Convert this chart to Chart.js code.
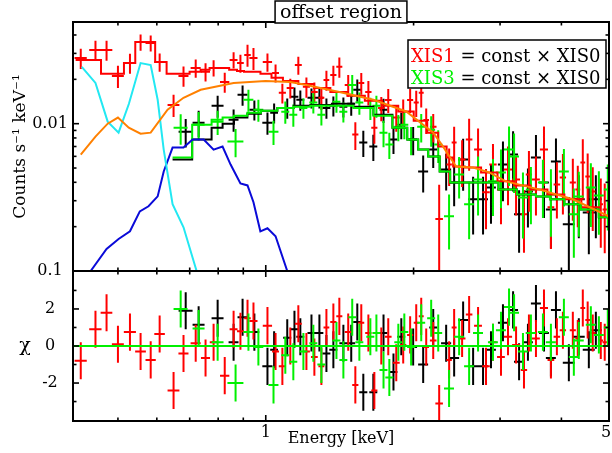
<!DOCTYPE html>
<html>
<head>
<meta charset="utf-8">
<script src="https://cdn.jsdelivr.net/npm/chart.js@4.4.1/dist/chart.umd.min.js"></script>
<style>
  html, body { margin: 0; padding: 0; background: #fff; }
  #wrap { position: relative; width: 612px; height: 453px; background: #fff; overflow: hidden; }
  #wrap canvas { position: absolute; left: 0; }
  #specCanvas { top: 0; }
  #resCanvas { top: 270px; }
</style>
</head>
<body>
<div id="wrap">
  <canvas id="specCanvas" width="612" height="282"></canvas>
  <canvas id="resCanvas" width="612" height="183"></canvas>
</div>
<script>
// --- energy axis (keV) ---
const energyMin = 0.405;
const energyMax = 5;
const energyMajorTicks = [1];
const energyMinorTicks = [0.5, 0.6, 0.7, 0.8, 0.9, 2, 3, 4];
const energyLabelValues = [1, 5];
const energyLabelText = ['1', '5'];

// --- counts axis ---
const countsMin = 0.001;
const countsMax = 0.049;
const countsMajorTicks = [0.001, 0.01];
const countsMinorTicks = [0.002, 0.003, 0.004, 0.005, 0.006, 0.007, 0.008, 0.009, 0.02, 0.03, 0.04];
const countsLabelText = ['0.1', '0.01'];

// --- residual axis ---
const chiMin = -4.05;
const chiMax = 4.05;
const chiMajorTicks = [-2, 0, 2];
const chiMinorTicks = [-3, -1, 1, 3];
const chiLabelText = ['-2', '0', '2'];
const chiErr = 1;

// XIS0 (black)
const xis0Energy = [0.687,0.730,0.798,0.860,0.897,0.948,1.008,1.040,1.106,1.144,1.176,1.239,1.286,1.329,1.373,1.439,1.493,1.536,1.580,1.656,1.737,1.820,1.888,1.996,2.092,2.193,2.330,2.419,2.523,2.644,2.770,2.875,3.041,3.189,3.280,3.419,3.550,3.686,3.808,3.899,4.142,4.340,4.549,4.701];
const xis0HalfWidth = [0.0225,0.0205,0.0224,0.020,0.021,0.022,0.024,0.019,0.021,0.021,0.022,0.023,0.024,0.025,0.026,0.027,0.028,0.029,0.030,0.031,0.032,0.034,0.035,0.037,0.049,0.041,0.055,0.057,0.059,0.062,0.065,0.067,0.071,0.075,0.077,0.080,0.083,0.086,0.089,0.091,0.116,0.122,0.128,0.132];
const xis0Flux = [0.00883,0.01016,0.01323,0.01064,0.0157,0.01243,0.01016,0.01187,0.0128,0.01522,0.01453,0.0150,0.0150,0.0128,0.01323,0.01303,0.01365,0.0170,0.00744,0.00699,0.01243,0.0078,0.00984,0.0078,0.00474,0.00667,0.00489,0.00399,0.00571,0.00307,0.00307,0.00369,0.00528,0.00617,0.00243,0.00347,0.00589,0.00399,0.00262,0.00554,0.00208,0.00307,0.00250,0.00307];
const xis0FluxErr = [0.00193,0.00206,0.00227,0.00183,0.00245,0.00194,0.00174,0.00185,0.0020,0.00237,0.00227,0.00234,0.00234,0.0020,0.00206,0.00203,0.00234,0.00292,0.00151,0.00142,0.00233,0.00158,0.0020,0.0017,0.00133,0.00166,0.00137,0.00124,0.0022,0.0013,0.0013,0.0016,0.0023,0.0027,0.0011,0.0015,0.0025,0.0017,0.0012,0.0024,0.0011,0.0014,0.0012,0.0014];
const xis0Chi = [1.9,1.15,1.5,0.2,1.55,0.75,-1.1,-0.2,0.45,0.9,0.5,0.7,0.7,-0.4,-0.2,0.15,0.15,1.3,-2.5,-2.5,0.7,-1.4,0.5,-0.05,-1.0,1.0,0.15,-0.65,1.4,-1.1,-1.1,-0.2,1.25,1.95,-0.85,0.2,2.3,0.7,-0.65,1.95,-0.9,0.5,-0.2,0.85];

// XIS1 (red)
const xis1Energy = [0.420,0.450,0.474,0.500,0.529,0.556,0.583,0.608,0.649,0.680,0.720,0.754,0.783,0.825,0.860,0.888,0.918,0.944,1.008,1.047,1.081,1.122,1.165,1.210,1.256,1.298,1.329,1.373,1.412,1.472,1.522,1.565,1.618,1.664,1.719,1.776,1.844,1.905,1.968,2.025,2.073,2.122,2.193,2.255,2.363,2.419,2.511,2.595,2.706,2.809,2.902,3.013,3.114,3.234,3.356,3.435,3.550,3.686,3.808,3.916,4.028,4.220,4.319,4.422,4.524,4.633,4.811,4.901];
const xis1HalfWidth = [0.012,0.013,0.013,0.014,0.015,0.014,0.014,0.015,0.018,0.016,0.017,0.016,0.014,0.018,0.016,0.014,0.014,0.018,0.022,0.017,0.018,0.019,0.019,0.020,0.020,0.018,0.018,0.020,0.020,0.024,0.022,0.022,0.024,0.024,0.026,0.028,0.030,0.028,0.028,0.024,0.024,0.028,0.034,0.040,0.030,0.028,0.040,0.040,0.050,0.050,0.050,0.055,0.060,0.060,0.050,0.050,0.065,0.070,0.060,0.060,0.060,0.060,0.050,0.050,0.050,0.060,0.050,0.050];
const xis1Flux = [0.0279,0.0316,0.0316,0.0211,0.0258,0.0358,0.0353,0.0262,0.0134,0.0211,0.0239,0.0225,0.0239,0.0192,0.0271,0.0258,0.0293,0.0279,0.0262,0.0221,0.0162,0.0175,0.0250,0.0178,0.0164,0.0150,0.0198,0.0214,0.0243,0.0183,0.00843,0.0189,0.0164,0.0094,0.0128,0.0145,0.0110,0.0121,0.0145,0.0139,0.0162,0.0106,0.00954,0.00225,0.00528,0.00744,0.00571,0.0078,0.00667,0.00342,0.00528,0.00358,0.00489,0.00418,0.00243,0.00452,0.00418,0.00667,0.00271,0.00387,0.00432,0.00399,0.00358,0.00545,0.00438,0.00347,0.00284,0.00262];
const xis1FluxErr = [0.0044,0.0049,0.0049,0.0036,0.0040,0.0045,0.0044,0.0037,0.0023,0.0033,0.0034,0.0032,0.0030,0.0030,0.0034,0.0036,0.0050,0.0048,0.0037,0.0031,0.0025,0.0027,0.0035,0.0028,0.0026,0.0026,0.0031,0.0033,0.0038,0.0031,0.0018,0.0032,0.0031,0.0021,0.0024,0.0027,0.0022,0.0025,0.0027,0.0028,0.0033,0.0021,0.0021,0.0016,0.0015,0.0021,0.0020,0.0030,0.0026,0.0015,0.0020,0.0015,0.0021,0.0018,0.0011,0.0020,0.0018,0.0029,0.0013,0.0016,0.0019,0.0018,0.0016,0.0024,0.0019,0.0016,0.0014,0.0013];
const xis1Chi = [-0.8,0.9,1.8,0.1,0.75,-0.3,-0.75,0.65,-2.4,-0.4,0.15,-0.65,0.2,-1.6,0.9,0.8,1.5,1.35,1.1,-0.3,-1.1,0.0,1.2,-0.3,-0.6,-1.1,1.0,1.3,1.6,0.75,-2.1,1.25,0.7,-2.4,0.0,0.5,-0.9,0.05,0.6,1.25,1.6,-0.05,0.3,-3.1,-0.75,1.0,0.4,1.7,1.1,-1.1,0.2,-0.6,0.5,0.05,-1.3,0.7,0.4,2.05,-0.75,0.5,0.85,0.85,0.4,2.05,1.4,0.7,0.3,0.2];

// XIS3 (green)
const xis3Energy = [0.671,0.730,0.798,0.868,0.922,0.966,1.037,1.096,1.138,1.193,1.250,1.298,1.393,1.439,1.500,1.551,1.633,1.680,1.737,1.785,1.862,1.915,1.977,2.073,2.172,2.245,2.362,2.476,2.595,2.706,2.902,3.013,3.129,3.204,3.340,3.467,3.668,3.808,4.047,4.240,4.340,4.592,4.768,4.972];
const xis3HalfWidth = [0.022,0.0205,0.0224,0.0325,0.0216,0.0226,0.0243,0.0205,0.0213,0.0223,0.0234,0.0243,0.026,0.0269,0.028,0.029,0.0305,0.0314,0.0325,0.0334,0.0348,0.0358,0.037,0.0388,0.0406,0.042,0.0553,0.058,0.0607,0.0633,0.0679,0.0705,0.0732,0.075,0.0782,0.0811,0.0858,0.0891,0.0947,0.0992,0.1016,0.1075,0.1116,0.093];
const xis3Flux = [0.0094,0.00984,0.01032,0.00756,0.01453,0.01243,0.00883,0.01205,0.0115,0.0128,0.0139,0.0115,0.01408,0.01205,0.0183,0.0139,0.0128,0.01323,0.00869,0.00721,0.00954,0.00984,0.0078,0.00954,0.00911,0.00721,0.00235,0.00452,0.00284,0.00418,0.00406,0.00467,0.00667,0.00598,0.00316,0.00358,0.00399,0.00331,0.00474,0.00243,0.00321,0.00369,0.00326,0.00358];
const xis3FluxErr = [0.0022,0.00215,0.00193,0.00165,0.00249,0.00213,0.00165,0.00207,0.00197,0.002,0.00217,0.00179,0.0022,0.00188,0.00314,0.00239,0.0022,0.00227,0.00176,0.00146,0.00193,0.002,0.0017,0.00208,0.00213,0.0018,0.00095,0.00141,0.0012,0.0018,0.0017,0.0020,0.0029,0.0026,0.0015,0.0015,0.0017,0.0016,0.0020,0.0012,0.0015,0.0017,0.0015,0.0017];
const xis3Chi = [2.0,0.95,0.2,-2.0,0.75,-0.05,-2.1,-0.5,-0.85,-0.3,0.15,-1.0,0.3,-0.75,1.55,0.2,0.5,0.7,-1.3,-1.7,0.2,0.75,-0.05,1.25,1.5,0.7,-2.3,0.5,-1.1,0.7,0.2,0.85,2.1,1.8,-0.3,0.7,0.75,0.2,1.55,-0.6,0.3,1.15,0.6,1.0];

// folded models (step lines)
const xis1ModelEnergy = [0.41,0.450,0.474,0.500,0.529,0.556,0.583,0.608,0.649,0.680,0.720,0.754,0.783,0.825,0.860,0.888,0.918,0.944,1.008,1.047,1.122,1.210,1.298,1.412,1.522,1.664,1.793,1.932,2.073,2.193,2.297,2.374,2.442,2.644,2.849,3.084,3.325,3.600,3.899,4.220,4.571,4.995];
const xis1ModelFlux = [0.0271,0.0271,0.0218,0.0218,0.0258,0.0358,0.0358,0.0262,0.0218,0.0218,0.0225,0.0232,0.0239,0.0239,0.0232,0.0228,0.0225,0.0225,0.0218,0.0205,0.0195,0.0186,0.0175,0.0164,0.01546,0.0143,0.01323,0.0121,0.01048,0.00869,0.00699,0.00589,0.00512,0.00504,0.00467,0.00406,0.00381,0.00358,0.00331,0.00307,0.00271,0.00235];
const xis03ModelEnergy = [0.646,0.687,0.730,0.754,0.798,0.836,0.888,0.948,1.008,1.106,1.176,1.292,1.439,1.580,1.737,1.888,1.996,2.092,2.193,2.330,2.419,2.644,2.875,3.084,3.419,3.686,3.899,4.220,4.549,4.995];
const xis0ModelFlux = [0.00571,0.00571,0.0078,0.0078,0.0094,0.0100,0.0110,0.01169,0.01224,0.0128,0.01323,0.0134,0.01365,0.01303,0.0115,0.0094,0.0078,0.00667,0.00598,0.00474,0.00399,0.00399,0.00399,0.00358,0.00331,0.00321,0.00307,0.00284,0.00262,0.00232];
const xis3ModelFlux = [0.00589,0.00589,0.00984,0.00984,0.01064,0.0110,0.01133,0.01187,0.01224,0.0128,0.01303,0.01323,0.01323,0.0128,0.01133,0.0094,0.0078,0.00667,0.00598,0.00474,0.00399,0.00399,0.00399,0.00358,0.00331,0.00321,0.00307,0.00284,0.00262,0.00232];

// model components
const continuumEnergy = [0.420,0.450,0.4765,0.500,0.526,0.556,0.583,0.631,0.680,0.737,0.860,0.999,1.122,1.210,1.412,1.656,1.932,2.193,2.297,2.374,2.442,2.644,2.849,3.084,3.600,4.220,4.995];
const continuumFlux = [0.00617,0.00817,0.0100,0.0110,0.0094,0.00856,0.00869,0.01243,0.0150,0.0170,0.0189,0.0195,0.0192,0.0183,0.0164,0.01453,0.0121,0.00869,0.00699,0.00589,0.00512,0.00504,0.00467,0.00406,0.00358,0.00307,0.00235];
const softEnergy = [0.422,0.450,0.4765,0.5015,0.5264,0.556,0.583,0.6024,0.6197,0.646,0.680,0.723,0.754];
const softFlux = [0.0243,0.0189,0.01032,0.00869,0.01365,0.0258,0.0250,0.01453,0.00667,0.00284,0.00198,0.0010,0.00065];
const thermalEnergy = [0.420,0.440,0.474,0.5015,0.529,0.554,0.577,0.6024,0.6197,0.646,0.680,0.7096,0.7475,0.783,0.8166,0.848,0.888,0.918,0.944,0.975,1.008,1.047,1.106,1.149];
const thermalFlux = [0.000804,0.0010,0.00141,0.00165,0.00186,0.00254,0.00275,0.00321,0.00474,0.00688,0.00688,0.0078,0.0078,0.00667,0.00699,0.00528,0.00393,0.00381,0.00293,0.00186,0.00195,0.00172,0.0010,0.0007];

const RED = '#ff0000';
const GREEN = '#00f000';
const BLACK = '#000000';
const ORANGE = '#ff8000';
const CYAN = '#22e8f2';
const BLUE = '#0a0ad8';
const FONT = '"DejaVu Serif", "Liberation Serif", serif';

// crosses: horizontal bar = bin width, vertical bar = +-error, null points break the line
function crossPoints(energy, halfWidth, value, err) {
  const pts = [];
  for (let i = 0; i < energy.length; i++) {
    const e = Array.isArray(err) ? err[i] : err;
    pts.push({ x: energy[i] - halfWidth[i], y: value[i] });
    pts.push({ x: energy[i] + halfWidth[i], y: value[i] });
    pts.push({ x: energy[i], y: null });
    pts.push({ x: energy[i], y: value[i] - e });
    pts.push({ x: energy[i], y: value[i] + e });
    pts.push({ x: energy[i], y: null });
  }
  return pts;
}

function xyPoints(xs, ys) {
  return xs.map((x, i) => ({ x: x, y: ys[i] }));
}

function crossSet(pts, color, order) {
  return { data: pts, borderColor: color, borderWidth: 2, pointRadius: 0, fill: false, spanGaps: false, order: order };
}

function lineSet(pts, color, order, stepped) {
  return { data: pts, borderColor: color, borderWidth: 2, pointRadius: 0, fill: false, stepped: stepped || false, order: order };
}

function baseOptions(yScale, pad) {
  return {
    responsive: false,
    animation: false,
    devicePixelRatio: 1,
    events: [],
    layout: { padding: pad },
    plugins: { legend: { display: false }, tooltip: { enabled: false }, title: { display: false } },
    scales: {
      x: { type: 'logarithmic', min: energyMin, max: energyMax, display: false },
      y: yScale
    }
  };
}

function tick(ctx, x1, y1, x2, y2) {
  ctx.beginPath();
  ctx.moveTo(x1, y1);
  ctx.lineTo(x2, y2);
  ctx.stroke();
}

// frame with inward ticks on all four sides
function drawFrame(chart, yMajor, yMinor) {
  const ctx = chart.ctx;
  const a = chart.chartArea;
  const xs = chart.scales.x;
  const ys = chart.scales.y;
  ctx.save();
  ctx.strokeStyle = '#000';
  ctx.lineWidth = 2;
  ctx.strokeRect(a.left, a.top, a.right - a.left, a.bottom - a.top);
  ctx.lineWidth = 1.6;
  energyMajorTicks.forEach(v => {
    const px = xs.getPixelForValue(v);
    tick(ctx, px, a.bottom, px, a.bottom - 6);
    tick(ctx, px, a.top, px, a.top + 6);
  });
  energyMinorTicks.forEach(v => {
    const px = xs.getPixelForValue(v);
    tick(ctx, px, a.bottom, px, a.bottom - 3.5);
    tick(ctx, px, a.top, px, a.top + 3.5);
  });
  yMajor.forEach(v => {
    const py = ys.getPixelForValue(v);
    tick(ctx, a.left, py, a.left + 6, py);
    tick(ctx, a.right, py, a.right - 6, py);
  });
  yMinor.forEach(v => {
    const py = ys.getPixelForValue(v);
    tick(ctx, a.left, py, a.left + 3.5, py);
    tick(ctx, a.right, py, a.right - 3.5, py);
  });
  ctx.restore();
}

const spectrumDecor = {
  id: 'spectrumDecor',
  afterDraw(chart) {
    const ctx = chart.ctx;
    const a = chart.chartArea;
    const ys = chart.scales.y;
    drawFrame(chart, countsMajorTicks, countsMinorTicks);
    ctx.save();
    ctx.fillStyle = '#000';
    ctx.font = '16px ' + FONT;
    ctx.textAlign = 'center';
    ctx.textBaseline = 'middle';
    countsMajorTicks.forEach((v, i) => {
      ctx.fillText(countsLabelText[i], a.left - 23, ys.getPixelForValue(v));
    });
    // y axis title
    ctx.save();
    ctx.translate(21, (a.top + a.bottom) / 2);
    ctx.rotate(-Math.PI / 2);
    ctx.font = '17px ' + FONT;
    ctx.fillText('Counts s\u207B\u00B9 keV\u207B\u00B9', 0, 0);
    ctx.restore();

    // title box
    ctx.font = '19px ' + FONT;
    const title = 'offset region';
    const tw = ctx.measureText(title).width;
    const cx = (a.left + a.right) / 2;
    ctx.fillStyle = '#fff';
    ctx.fillRect(cx - tw / 2 - 5, 1, tw + 10, 22);
    ctx.strokeStyle = '#000';
    ctx.lineWidth = 1.5;
    ctx.strokeRect(cx - tw / 2 - 5, 1, tw + 10, 22);
    ctx.fillStyle = '#000';
    ctx.textAlign = 'center';
    ctx.textBaseline = 'alphabetic';
    ctx.fillText(title, cx, 18);

    // legend box
    const lx = 408, ly = 40, lw = 198, lh = 48;
    ctx.fillStyle = '#fff';
    ctx.fillRect(lx, ly, lw, lh);
    ctx.strokeRect(lx, ly, lw, lh);
    ctx.font = '18px ' + FONT;
    ctx.textAlign = 'left';
    const rows = [['XIS1', RED], ['XIS3', GREEN]];
    rows.forEach((r, i) => {
      const y = ly + 22 + i * 22;
      ctx.fillStyle = r[1];
      ctx.fillText(r[0], lx + 3, y);
      const w = ctx.measureText(r[0]).width;
      ctx.fillStyle = '#000';
      ctx.fillText(' = const \u00D7 XIS0', lx + 3 + w, y);
    });
    ctx.restore();
  }
};

const residualDecor = {
  id: 'residualDecor',
  afterDraw(chart) {
    const ctx = chart.ctx;
    const a = chart.chartArea;
    const xs = chart.scales.x;
    const ys = chart.scales.y;
    drawFrame(chart, chiMajorTicks, chiMinorTicks);
    ctx.save();
    ctx.fillStyle = '#000';
    ctx.font = '16px ' + FONT;
    ctx.textAlign = 'center';
    ctx.textBaseline = 'middle';
    chiMajorTicks.forEach((v, i) => {
      ctx.fillText(chiLabelText[i], a.left - 23, ys.getPixelForValue(v));
    });
    ctx.font = '19px ' + FONT;
    ctx.fillText('\u03C7', 25, ys.getPixelForValue(0));
    ctx.font = '16px ' + FONT;
    ctx.textBaseline = 'top';
    energyLabelValues.forEach((v, i) => {
      let px = xs.getPixelForValue(v);
      if (i === energyLabelValues.length - 1) px -= 3;
      ctx.fillText(energyLabelText[i], px, a.bottom + 4);
    });
    ctx.textBaseline = 'alphabetic';
    ctx.fillText('Energy [keV]', (a.left + a.right) / 2, a.bottom + 22);
    ctx.restore();
  }
};

// upper panel: spectra, models and components
new Chart(document.getElementById('specCanvas'), {
  type: 'line',
  data: {
    datasets: [
      lineSet(xyPoints(continuumEnergy, continuumFlux), ORANGE, 1),
      lineSet(xyPoints(softEnergy, softFlux), CYAN, 2),
      lineSet(xyPoints(thermalEnergy, thermalFlux), BLUE, 3),
      lineSet(xyPoints(xis03ModelEnergy, xis3ModelFlux), GREEN, 4, 'middle'),
      lineSet(xyPoints(xis1ModelEnergy, xis1ModelFlux), RED, 5, 'middle'),
      lineSet(xyPoints(xis03ModelEnergy, xis0ModelFlux), BLACK, 6, 'middle'),
      crossSet(crossPoints(xis3Energy, xis3HalfWidth, xis3Flux, xis3FluxErr), GREEN, 7),
      crossSet(crossPoints(xis1Energy, xis1HalfWidth, xis1Flux, xis1FluxErr), RED, 8),
      crossSet(crossPoints(xis0Energy, xis0HalfWidth, xis0Flux, xis0FluxErr), BLACK, 9)
    ]
  },
  options: baseOptions(
    { type: 'logarithmic', min: countsMin, max: countsMax, display: false },
    { left: 73, right: 3, top: 22, bottom: 11 }
  ),
  plugins: [spectrumDecor]
});

// lower panel: residuals
new Chart(document.getElementById('resCanvas'), {
  type: 'line',
  data: {
    datasets: [
      lineSet([{ x: energyMin, y: 0 }, { x: energyMax, y: 0 }], GREEN, 0),
      crossSet(crossPoints(xis3Energy, xis3HalfWidth, xis3Chi, chiErr), GREEN, 1),
      crossSet(crossPoints(xis1Energy, xis1HalfWidth, xis1Chi, chiErr), RED, 2),
      crossSet(crossPoints(xis0Energy, xis0HalfWidth, xis0Chi, chiErr), BLACK, 3)
    ]
  },
  options: baseOptions(
    { type: 'linear', min: chiMin, max: chiMax, display: false },
    { left: 73, right: 3, top: 1, bottom: 32 }
  ),
  plugins: [residualDecor]
});
</script>
</body>
</html>
